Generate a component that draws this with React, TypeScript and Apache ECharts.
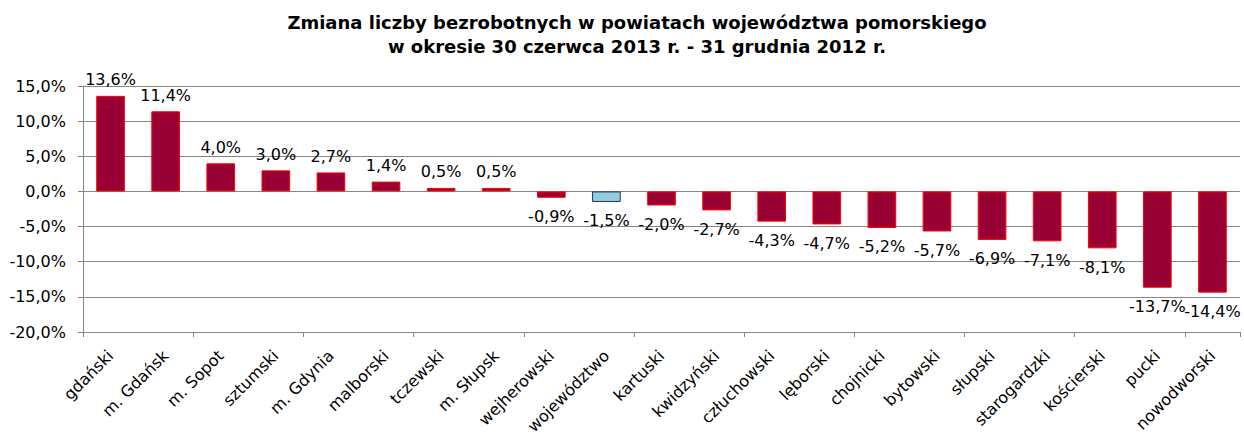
import React, { useEffect, useRef } from "react";
import * as echarts from "echarts";

const categories = [
  "gdański", "m. Gdańsk", "m. Sopot", "sztumski", "m. Gdynia", "malborski", "tczewski",
  "m. Słupsk", "wejherowski", "województwo", "kartuski", "kwidzyński", "człuchowski",
  "lęborski", "chojnicki", "bytowski", "słupski", "starogardzki", "kościerski", "pucki", "nowodworski",
];
const values = [13.6, 11.4, 4.0, 3.0, 2.7, 1.4, 0.5, 0.5, -0.9, -1.5, -2.0, -2.7, -4.3, -4.7, -5.2, -5.7, -6.9, -7.1, -8.1, -13.7, -14.4];
const highlightCategory = "województwo";
const titleLines = [
  "Zmiana liczby bezrobotnych w powiatach województwa pomorskiego",
  "w okresie 30 czerwca 2013 r. - 31 grudnia 2012 r.",
];

const fmt = (v: number) => v.toFixed(1).replace(".", ",") + "%";
const FONT = "'DejaVu Sans', Verdana, sans-serif";

export default function App() {
  const ref = useRef<HTMLDivElement>(null);
  useEffect(() => {
    if (!ref.current) return;
    const chart = echarts.init(ref.current, null, { renderer: "svg" });
    const data = values.map((v, i) => {
      const hl = categories[i] === highlightCategory;
      return {
        value: v,
        itemStyle: hl
          ? { color: "#93cddd", borderColor: "#1f3864", borderWidth: 1 }
          : { color: "#990033", borderColor: "#ff0000", borderWidth: 1 },
        label: { position: v >= 0 ? "top" : "bottom", distance: v >= 0 ? 8 : 11 },
      };
    });
    chart.setOption({
      animation: false,
      textStyle: { fontFamily: FONT },
      title: {
        text: titleLines.join("\n"),
        left: 632,
        textAlign: "center",
        top: 5,
        textStyle: { fontFamily: FONT, fontSize: 18, fontWeight: "bold", color: "#000", lineHeight: 24 },
      },
      grid: { left: 83, right: 4, top: 86, bottom: 105 },
      xAxis: [
        {
          type: "category",
          data: categories,
          axisLine: { show: false },
          axisTick: { show: false },
          axisLabel: { rotate: 45, interval: 0, fontSize: 16, color: "#000", fontFamily: FONT, margin: 21 },
        },
        {
          type: "category",
          data: categories,
          position: "bottom",
          axisLine: { show: true, onZero: true, lineStyle: { color: "#868686", width: 1 } },
          axisTick: { show: true, length: 5, inside: false, lineStyle: { color: "#868686" } },
          axisLabel: { show: false },
        },
      ],
      yAxis: {
        type: "value",
        min: -20,
        max: 15,
        interval: 5,
        axisLine: { show: true, lineStyle: { color: "#868686" } },
        axisTick: { show: true, length: 5, lineStyle: { color: "#868686" } },
        splitLine: { lineStyle: { color: "#868686", width: 1 } },
        axisLabel: { formatter: (v: number) => fmt(v), fontSize: 16, color: "#000", fontFamily: FONT, margin: 17 },
      },
      series: [
        {
          type: "bar",
          xAxisIndex: 0,
          data,
          barWidth: "52%",
          label: {
            show: true,
            fontSize: 16,
            color: "#000",
            fontFamily: FONT,
            formatter: (p: any) => fmt(p.value),
          },
        },
      ],
    });
    return () => chart.dispose();
  }, []);
  return <div ref={ref} style={{ width: 1244, height: 437, position: "absolute", left: 0, top: 0 }} />;
}
